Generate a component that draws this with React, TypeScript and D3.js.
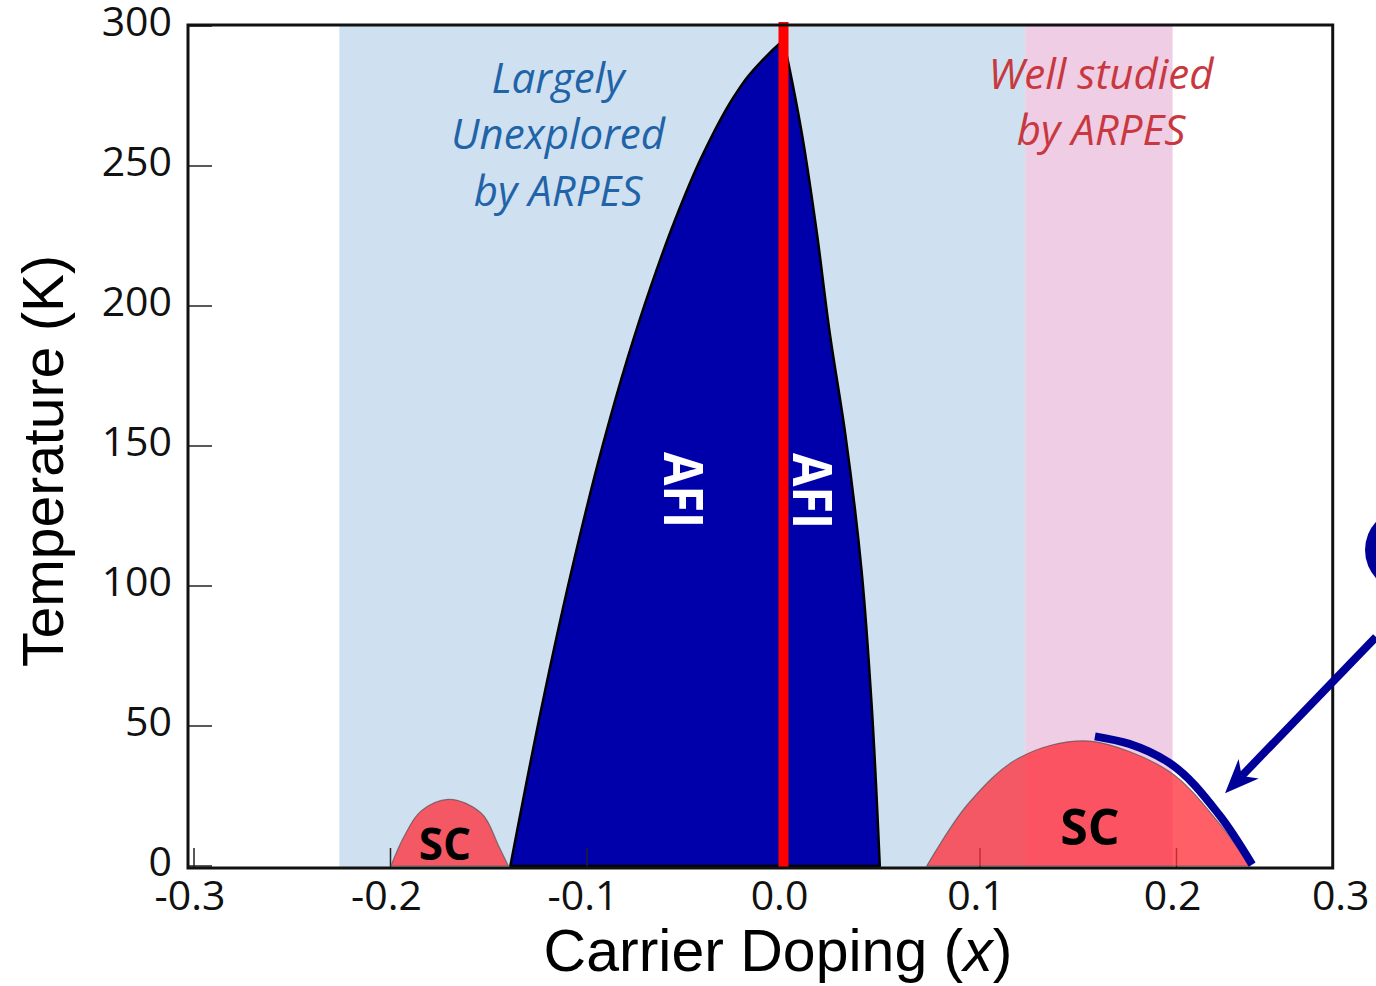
import React from 'react';
import * as d3 from 'd3';

// axis ticks
const xTicks = [-0.3, -0.2, -0.1, 0.0, 0.1, 0.2];
const xTickLabels = ['-0.3', '-0.2', '-0.1', '0.0', '0.1', '0.2', '0.3'];
const yTicks = [0, 50, 100, 150, 200, 250, 300];

// shaded doping ranges
const unexploredRange = [-0.226, 0.123];
const studiedRange = [0.123, 0.198];

// antiferromagnetic insulator dome (two branches meet at x = 0)
const afiLeft: [number, number][] = [
  [-0.139, 0], [-0.1233, 56], [-0.108, 105], [-0.0917, 151], [-0.0795, 181],
  [-0.0675, 207], [-0.0556, 230], [-0.0418, 253], [-0.025, 275],
  [-0.0186, 281.5], [-0.0104, 288], [0, 295],
];
const afiRight: [number, number][] = [
  [0, 295], [0.003, 285], [0.009, 263], [0.0168, 227], [0.0234, 191],
  [0.0315, 154], [0.0398, 105], [0.0449, 57], [0.049, 0],
];

// superconducting domes
const scElectron: [number, number][] = [
  [-0.1998, 0], [-0.1932, 10.4], [-0.1845, 19.6], [-0.1707, 23.8],
  [-0.154, 19], [-0.1447, 6.8], [-0.14, 0],
];
const scHole: [number, number][] = [
  [0.0729, 0], [0.0943, 22.5], [0.1198, 38.6], [0.1555, 44.6],
  [0.176, 40.9], [0.196, 33.9], [0.2217, 15.3], [0.2375, 0],
];
// highlighted overdoped edge + arrow pointing at it
const highlight: [number, number][] = [
  [0.1585, 46.3], [0.176, 43.6], [0.196, 37], [0.2217, 18.3], [0.2385, 0.5],
];
const arrowFrom: [number, number] = [0.3015, 81.8];
const arrowTo: [number, number] = [0.2247, 26];

const xRight = 0.2795; // right frame edge (figure is cropped)

export default function App() {
  const width = 1376;
  const height = 986;

  const x = d3.scaleLinear().domain([-0.3, 0.3]).range([194, 1373]);
  const y = d3.scaleLinear().domain([0, 300]).range([866, 26]);

  const left = 188;
  const right = x(xRight);
  const top = 25;
  const bottom = 868;

  const smooth = d3
    .line<[number, number]>()
    .x(d => x(d[0]))
    .y(d => y(d[1]))
    .curve(d3.curveCatmullRom.alpha(1));

  const afiPath = smooth(afiLeft) + (smooth(afiRight) || '').replace(/^M/, 'L') + 'Z';

  // arrow head geometry
  const [ax0, ay0] = [x(arrowFrom[0]), y(arrowFrom[1])];
  const [ax1, ay1] = [x(arrowTo[0]), y(arrowTo[1])];
  const len = Math.hypot(ax1 - ax0, ay1 - ay0);
  const ux = (ax1 - ax0) / len;
  const uy = (ay1 - ay0) / len;
  const px = -uy;
  const py = ux;
  const headL = 34;
  const headW = 14;
  const bx = ax1 - ux * headL;
  const by = ay1 - uy * headL;
  const nx = ax1 - ux * 24;
  const ny = ay1 - uy * 24;
  const head = `M${ax1},${ay1}L${bx + px * headW},${by + py * headW}L${nx},${ny}L${bx - px * headW},${by - py * headW}Z`;

  const navy = '#000099';
  const tickFont = "'Open Sans', sans-serif";

  return (
    <svg
      width={width}
      height={height}
      style={{ position: 'absolute', left: 0, top: 0, background: '#fff' }}
    >
      {/* shaded ranges */}
      <rect
        x={x(unexploredRange[0])}
        y={top}
        width={x(unexploredRange[1]) - x(unexploredRange[0])}
        height={bottom - top}
        fill="#cfe0f0"
      />
      <rect
        x={x(studiedRange[0])}
        y={top}
        width={x(studiedRange[1]) - x(studiedRange[0])}
        height={bottom - top}
        fill="#eecde5"
      />

      {/* AFI dome */}
      <path d={afiPath} fill="#0000aa" stroke="#000" strokeWidth={2.5} strokeLinejoin="round" />

      {/* x ticks (inward) */}
      {xTicks.map(t => (
        <line key={t} x1={x(t)} x2={x(t)} y1={bottom} y2={bottom - 20} stroke="#222" strokeWidth={1.5} />
      ))}
      {/* y ticks (inward) */}
      {yTicks.map(t => (
        <line key={t} x1={left} x2={left + 24} y1={y(t)} y2={y(t)} stroke="#222" strokeWidth={1.5} />
      ))}

      {/* SC domes */}
      {[scElectron, scHole].map((d, i) => (
        <path
          key={i}
          d={(smooth(d) || '') + 'Z'}
          fill="rgb(255,45,55)"
          fillOpacity={0.76}
          stroke="#555"
          strokeOpacity={0.7}
          strokeWidth={1.2}
        />
      ))}

      {/* stoichiometric parent line */}
      <line x1={x(0)} x2={x(0)} y1={top - 3} y2={bottom} stroke="#ff0000" strokeWidth={10} />

      {/* highlighted edge */}
      <path d={smooth(highlight) || ''} fill="none" stroke={navy} strokeWidth={8} />

      {/* frame */}
      <rect x={left} y={top} width={right - left} height={bottom - top} fill="none" stroke="#111" strokeWidth={3} />

      {/* arrow */}
      <line x1={ax0} y1={ay0} x2={nx} y2={ny} stroke={navy} strokeWidth={8} />
      <path d={head} fill={navy} />
      <circle cx={1407} cy={550} r={42} fill={navy} />

      {/* tick labels */}
      {yTicks.map(t => (
        <text
          key={t}
          x={172}
          y={y(t) - 4}
          dy="0.35em"
          textAnchor="end"
          fontFamily={tickFont}
          fontSize={41}
          fill="#111"
        >
          {t}
        </text>
      ))}
      {xTickLabels.map((lab, i) => (
        <text
          key={lab}
          x={i < xTicks.length ? x(xTicks[i]) - 4 : right + 8}
          y={910}
          textAnchor="middle"
          fontFamily={tickFont}
          fontSize={41}
          fill="#111"
        >
          {lab}
        </text>
      ))}

      {/* axis titles */}
      <text
        x={778}
        y={971}
        textAnchor="middle"
        fontFamily="'Liberation Sans', Arial, sans-serif"
        fontSize={59}
        fill="#000"
      >
        Carrier Doping (<tspan fontStyle="italic">x</tspan>)
      </text>
      <text
        transform="translate(63,461) rotate(-90)"
        textAnchor="middle"
        fontFamily="'Liberation Sans', Arial, sans-serif"
        fontSize={57}
        fill="#000"
      >
        Temperature (K)
      </text>

      {/* region annotations */}
      <g fontFamily={tickFont} fontStyle="italic" fontSize={42} fill="#1f63a8" textAnchor="middle">
        <text x={558} y={93}>Largely</text>
        <text x={558} y={149}>Unexplored</text>
        <text x={558} y={206}>by ARPES</text>
      </g>
      <g fontFamily={tickFont} fontStyle="italic" fontSize={42} fill="#c8383e" textAnchor="middle">
        <text x={1101} y={89}>Well studied</text>
        <text x={1101} y={145}>by ARPES</text>
      </g>

      {/* phase labels */}
      <g fontFamily={tickFont} fontWeight="bold" fontSize={54} fill="#fff" textAnchor="middle">
        <text transform="translate(683,490) rotate(90)" dy="0.35em" textLength={76} lengthAdjust="spacingAndGlyphs">
          AFI
        </text>
        <text transform="translate(812,491) rotate(90)" dy="0.35em" textLength={76} lengthAdjust="spacingAndGlyphs">
          AFI
        </text>
      </g>
      <g fontFamily={tickFont} fontWeight="bold" fill="#000" textAnchor="middle">
        <text x={445} y={860} fontSize={44}>SC</text>
        <text x={1090} y={845} fontSize={50}>SC</text>
      </g>
    </svg>
  );
}
